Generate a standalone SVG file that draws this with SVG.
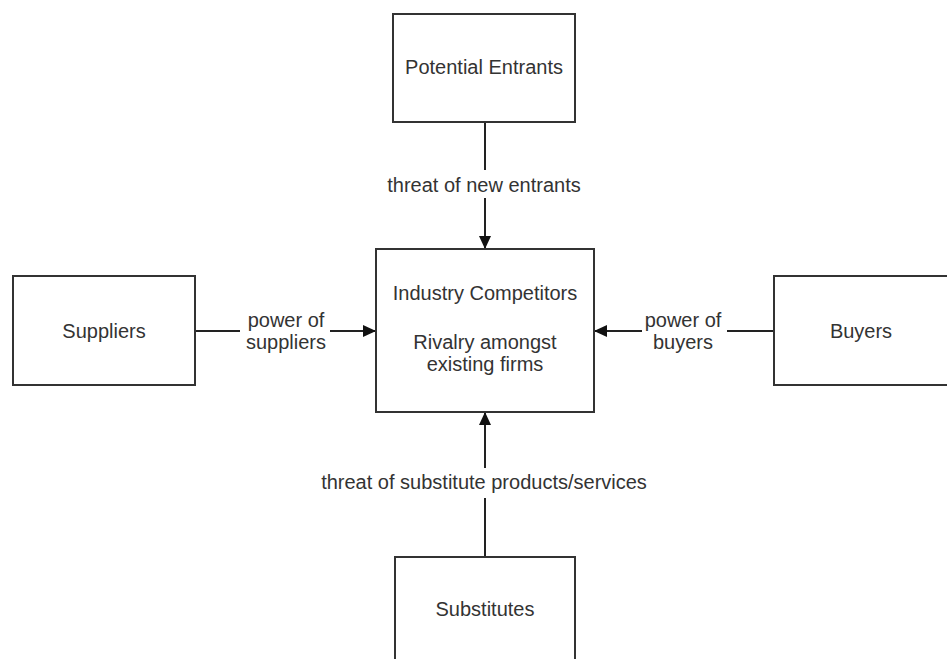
<svg xmlns="http://www.w3.org/2000/svg" width="947" height="659" viewBox="0 0 947 659">
<style>
.box{fill:#fff;stroke:#333;stroke-width:2}
.lbl{font-family:"Liberation Sans",Arial,sans-serif;font-size:20px;fill:#333;text-anchor:middle}
.con{fill:none;stroke:#222;stroke-width:2}
</style>
<defs>
<marker id="arr" markerUnits="userSpaceOnUse" markerWidth="13" markerHeight="12" refX="13" refY="6" orient="auto">
<path d="M0,0 L13,6 L0,12 z" fill="#111"/>
</marker>
</defs>
<rect width="947" height="659" fill="#fff"/>
<g id="connectors">
<path class="con" d="M485,122 L485,170 M485,198 L485,249" marker-end="url(#arr)"/>
<path class="con" d="M195,331 L240,331 M330,331 L376,331" marker-end="url(#arr)"/>
<path class="con" d="M774,331 L727,331 M642,331 L594,331" marker-end="url(#arr)"/>
<path class="con" d="M485,557 L485,498 M485,468 L485,412" marker-end="url(#arr)"/>
<text class="lbl" x="484" y="192">threat of new entrants</text>
<text class="lbl" x="286" y="327">power of</text>
<text class="lbl" x="286" y="349">suppliers</text>
<text class="lbl" x="683" y="327">power of</text>
<text class="lbl" x="683" y="349">buyers</text>
<text class="lbl" x="484" y="489">threat of substitute products/services</text>
</g>
<g id="potential-entrants">
<rect class="box" x="393" y="14" width="182" height="108"/>
<text class="lbl" x="484" y="74">Potential Entrants</text>
</g>
<g id="industry-competitors">
<rect class="box" x="376" y="249" width="218" height="163"/>
<text class="lbl" x="485" y="300">Industry Competitors</text>
<text class="lbl" x="485" y="349">Rivalry amongst</text>
<text class="lbl" x="485" y="371">existing firms</text>
</g>
<g id="suppliers">
<rect class="box" x="13" y="276" width="182" height="109"/>
<text class="lbl" x="104" y="338">Suppliers</text>
</g>
<g id="buyers">
<rect class="box" x="774" y="276" width="200" height="109"/>
<text class="lbl" x="861" y="338">Buyers</text>
</g>
<g id="substitutes">
<rect class="box" x="395" y="557" width="180" height="120"/>
<text class="lbl" x="485" y="616">Substitutes</text>
</g>
</svg>
